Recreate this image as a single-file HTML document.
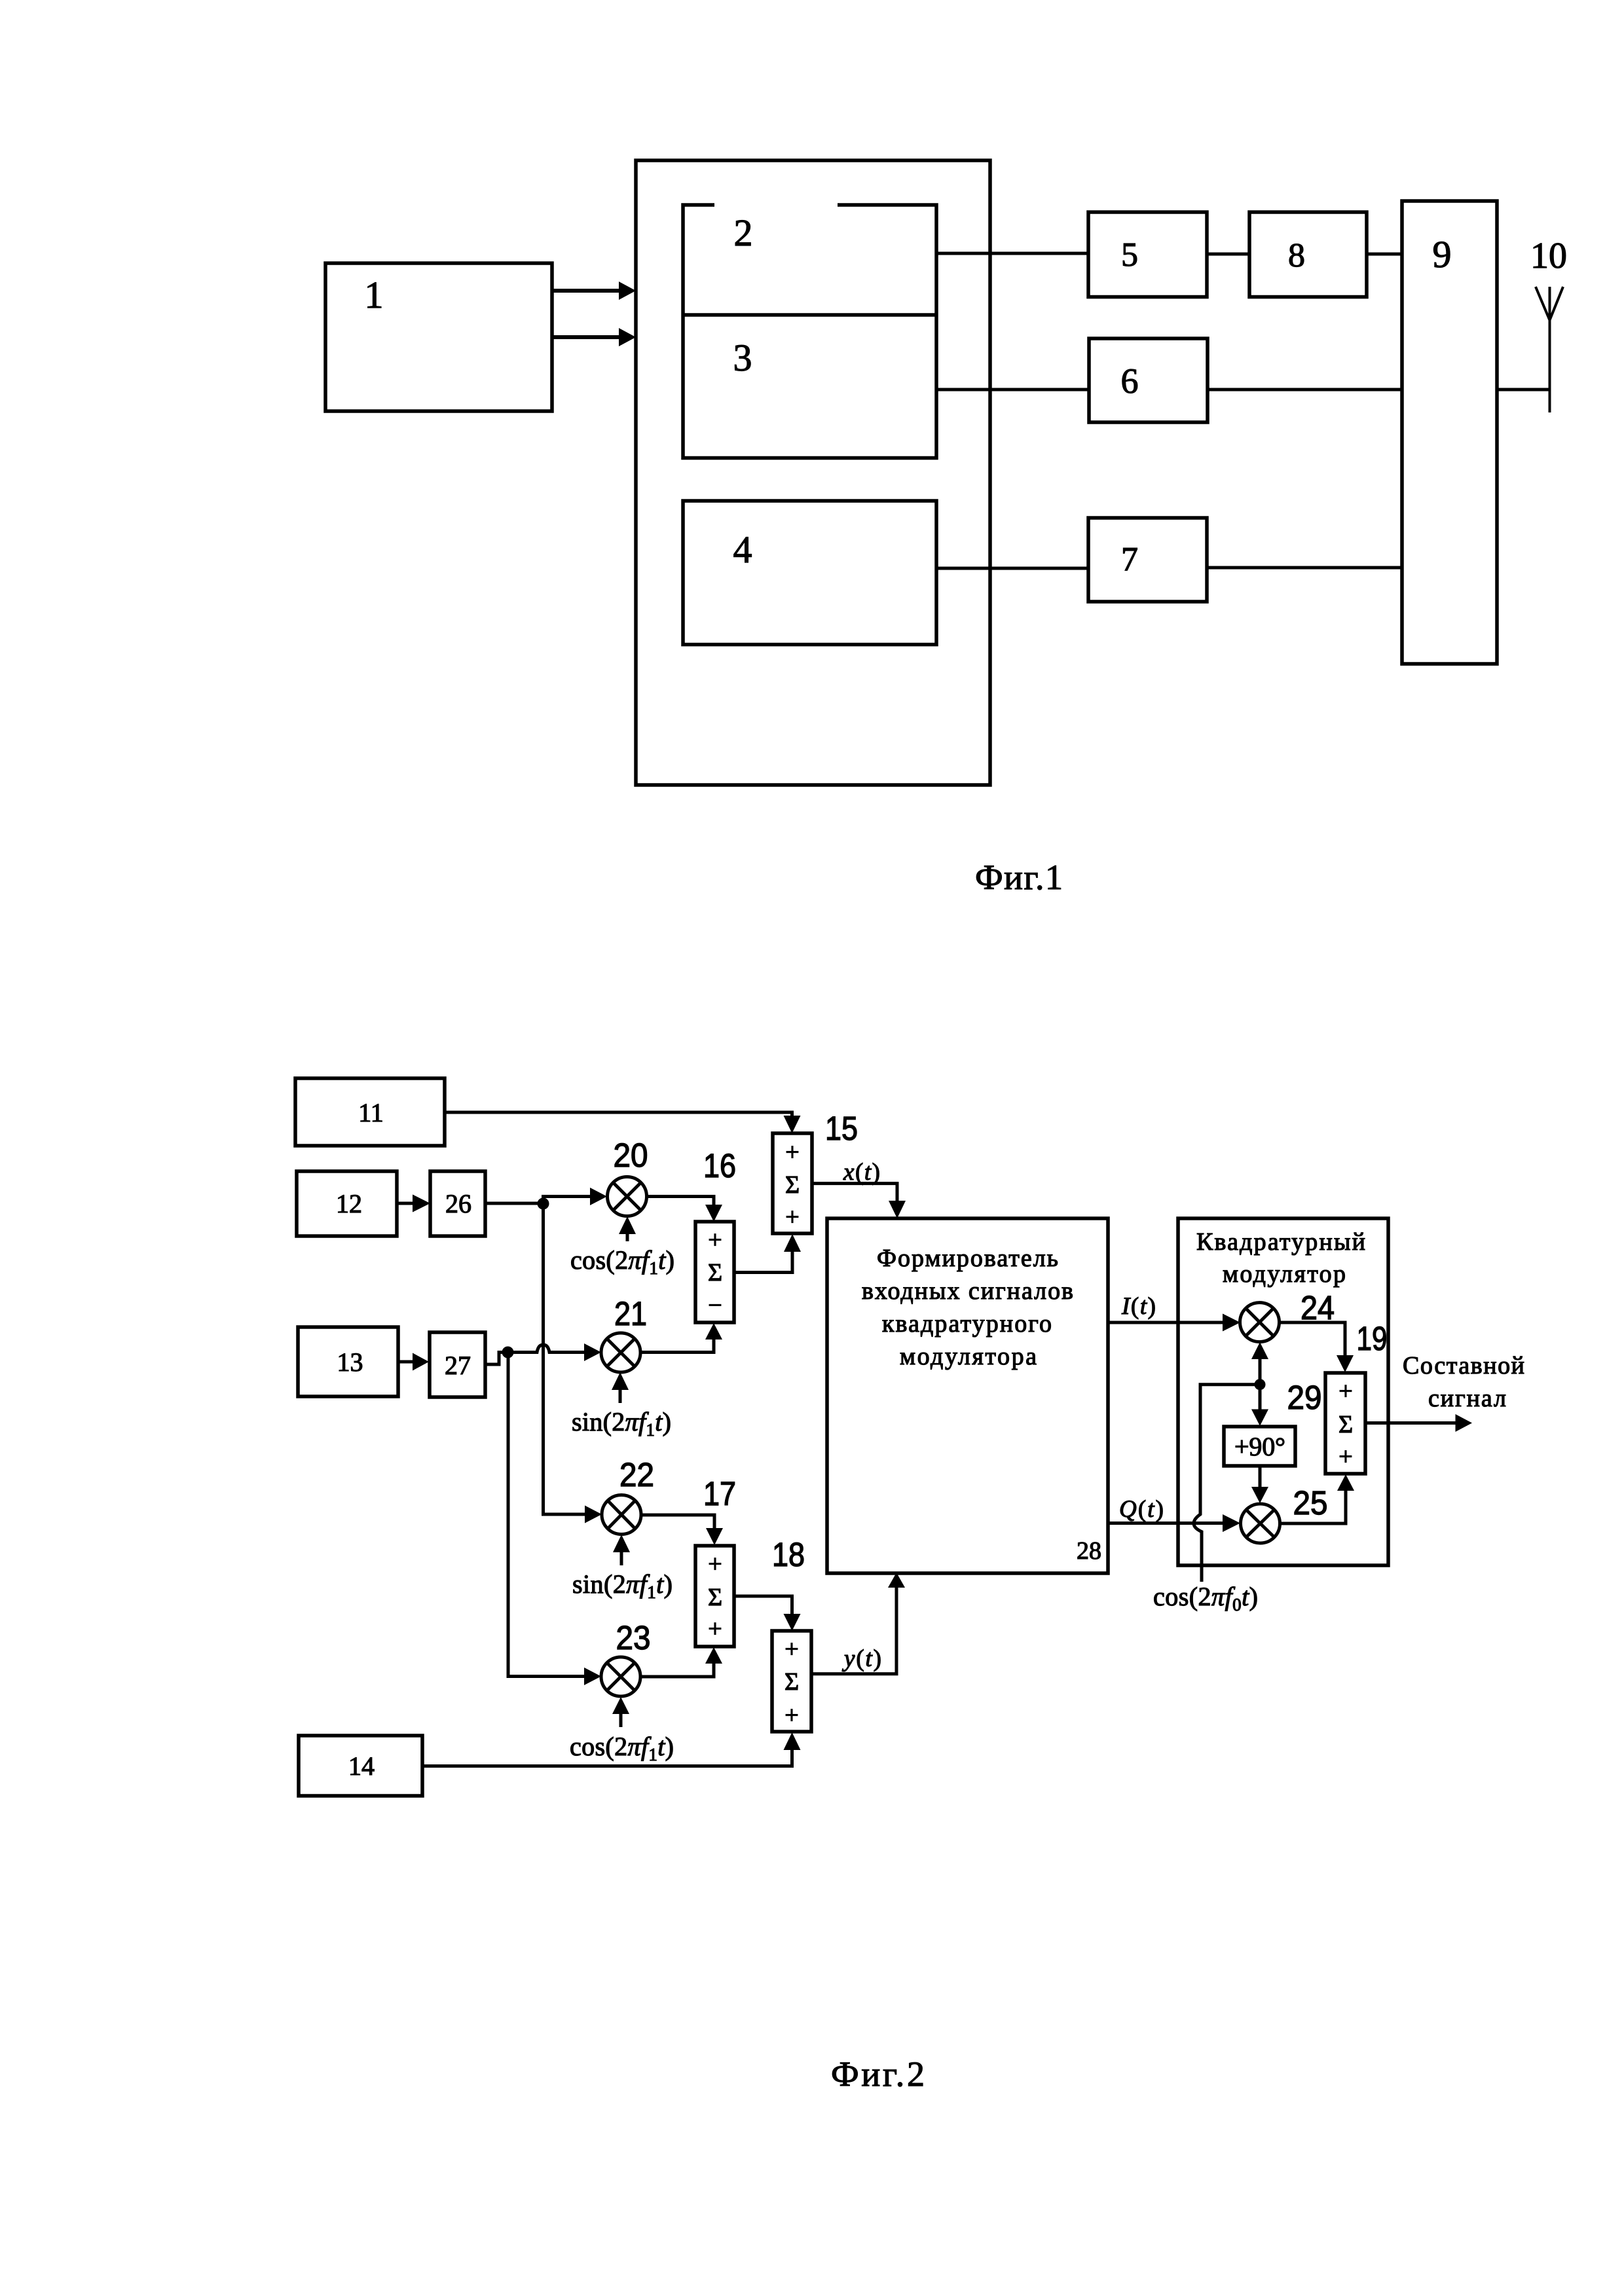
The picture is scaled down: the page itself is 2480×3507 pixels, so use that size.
<!DOCTYPE html>
<html><head><meta charset="utf-8"><style>
html,body{margin:0;padding:0;background:#fff}
svg{display:block}
.b{fill:none;stroke:#000;stroke-width:5.5;stroke-linejoin:miter}
.l{fill:none;stroke:#000;stroke-width:5;stroke-linejoin:miter}
.a{fill:#000;stroke:none}
text{fill:#000;stroke:#000}
.t{font-family:"Liberation Serif",serif;stroke-width:1.2}
.s{font-family:"Liberation Sans",sans-serif;font-size:51px;stroke-width:1.4}
.m{text-anchor:middle}
.i{font-style:italic}
</style></head><body>
<svg width="2480" height="3507" viewBox="0 0 2480 3507" xmlns="http://www.w3.org/2000/svg">
<rect width="2480" height="3507" fill="#fff"/>
<!-- FIG 1 -->
<g class="b">
<rect x="497" y="402" width="346" height="226"/>
<rect x="971" y="245" width="541" height="954"/>
<path d="M1091 313H1043V699.500H1430V313H1279"/>
<path d="M1043 481H1430"/>
<rect x="1043" y="765" width="387" height="219.500"/>
<rect x="1662" y="324" width="181" height="129.500"/>
<rect x="1908" y="324" width="179" height="129.500"/>
<rect x="2141" y="307" width="145" height="707"/>
<rect x="1663" y="517" width="181" height="128"/>
<rect x="1662" y="791" width="181" height="128"/>
</g>
<g class="l">
<path d="M843 444H950M843 515H950" stroke-width="6"/>
<path d="M1430 387H1662M1843 388H1908M2087 388H2141"/>
<path d="M1430 595H1663M1844 595H2141M2286 595H2366"/>
<path d="M1430 868H1662M1843 867H2141"/>
<path d="M2366.500 438V630M2345 438L2366.500 489L2387 438" stroke-width="4"/>
</g>
<polygon class="a" points="945,430 971,444 945,458"/>
<polygon class="a" points="945,501 971,515 945,529"/>
<g class="t m" font-size="58">
<text x="571" y="470">1</text>
<text x="1135" y="375">2</text>
<text x="1134" y="566">3</text>
<text x="1134" y="859">4</text>
<text x="2202" y="408">9</text>
<text x="2365" y="409" font-size="56">10</text>
<text x="1725" y="406" font-size="52">5</text>
<text x="1980" y="407" font-size="52">8</text>
<text x="1725" y="600" font-size="54">6</text>
<text x="1725" y="871" font-size="52">7</text>
</g>
<text class="t" x="1489" y="1358" font-size="54" textLength="134">Фиг.1</text>
<text class="t" x="1269" y="3186" font-size="54" textLength="143">Фиг.2</text>

<!-- FIG 2 -->
<g class="b">
<rect x="451" y="1647" width="228" height="103"/>
<rect x="453" y="1789" width="153" height="99"/>
<rect x="657" y="1789" width="84" height="99"/>
<rect x="455" y="2027" width="153" height="106"/>
<rect x="656" y="2035" width="85" height="99"/>
<rect x="456" y="2651" width="189" height="92"/>
<rect x="1180" y="1731" width="60" height="153"/>
<rect x="1062" y="1866" width="59" height="154"/>
<rect x="1062" y="2361" width="59" height="154"/>
<rect x="1179" y="2491" width="60" height="154"/>
<rect x="1263" y="1861" width="429" height="542"/>
<rect x="1799" y="1861" width="321" height="530"/>
<rect x="2024" y="2097" width="61" height="154"/>
<rect x="1869" y="2179" width="109" height="60"/>
</g>
<g class="l">
<!-- inputs -->
<path d="M679 1699H1209.500V1710"/>
<path d="M606 1838H635M741 1838H829.500"/>
<path d="M829.500 1838V1827.500H905M988 1827.500H1090V1845"/>
<path d="M1121 1943.500H1210V1905"/>
<path d="M958 1896V1880"/>
<path d="M608 2080H635"/>
<path d="M741 2084H762V2065.500H820Q822 2054 829.500 2054Q837 2054 839 2065.500H897"/>
<path d="M978 2065.500H1090V2040"/>
<path d="M947 2143V2118"/>
<path d="M829.500 1838V2313H897"/>
<path d="M776 2065.500V2560.500H897"/>
<path d="M979 2314H1091V2340"/>
<path d="M949 2391V2366"/>
<path d="M1121 2438H1209.500V2470"/>
<path d="M978 2561H1090V2536"/>
<path d="M948 2638V2613"/>
<path d="M645 2697.500H1209.500V2666"/>
<path d="M1240 1807.600H1370V1838"/>
<path d="M1239.400 2556.700H1369V2420"/>
<path d="M1692 2020H1870"/>
<path d="M1692 2326.500H1870"/>
<path d="M1954 2020H2054V2075"/>
<path d="M1955 2327H2055V2272"/>
<path d="M1924 2070V2158"/>
<path d="M1924 2114.700H1833V2313Q1823 2320 1823 2327Q1823 2334 1835 2339.600V2416"/>
<path d="M1924 2239V2276"/>
<path d="M2085 2173.500H2228"/>
</g>
<!-- multipliers -->
<g class="l">
<circle cx="957.500" cy="1827.500" r="30"/><path d="M936 1806L979 1849M979 1806L936 1849"/>
<circle cx="948" cy="2066" r="30"/><path d="M927 2045L969 2087M969 2045L927 2087"/>
<circle cx="949" cy="2313.500" r="30"/><path d="M928 2292L970 2335M970 2292L928 2335"/>
<circle cx="948" cy="2561" r="30"/><path d="M927 2540L969 2582M969 2540L927 2582"/>
<circle cx="1923.500" cy="2019.600" r="30"/><path d="M1902 1998L1945 2041M1945 1998L1902 2041"/>
<circle cx="1924.500" cy="2327" r="30"/><path d="M1903 2306L1946 2348M1946 2306L1903 2348"/>
</g>
<!-- junction dots -->
<circle class="a" cx="829.500" cy="1838.500" r="9"/>
<circle class="a" cx="775.500" cy="2065.500" r="9"/>
<circle class="a" cx="1924" cy="2114.700" r="8.500"/>
<!-- arrowheads -->
<g class="a">
<polygon points="1196.500,1704 1222.500,1704 1209.500,1731"/>
<polygon points="630,1824.500 657,1838 630,1851.500"/>
<polygon points="901,1814 927,1827.500 901,1841"/>
<polygon points="1077,1840 1103,1840 1090,1866"/>
<polygon points="1197,1912 1223,1912 1210,1885"/>
<polygon points="945,1885 971,1885 958,1858"/>
<polygon points="630,2066.500 655,2080 630,2093.500"/>
<polygon points="892,2052 918,2065.500 892,2079"/>
<polygon points="1077,2046 1103,2046 1090,2021"/>
<polygon points="934,2123 960,2123 947,2096"/>
<polygon points="893,2299.500 919,2313 893,2326.500"/>
<polygon points="892,2547 918,2560.500 892,2574"/>
<polygon points="1078,2334 1104,2334 1091,2360"/>
<polygon points="936,2371 962,2371 949,2344"/>
<polygon points="1196.500,2465 1222.500,2465 1209.500,2491"/>
<polygon points="1077,2541 1103,2541 1090,2516"/>
<polygon points="935,2618 961,2618 948,2592"/>
<polygon points="1196.500,2673 1222.500,2673 1209.500,2646"/>
<polygon points="1357,1834 1383,1834 1370,1861"/>
<polygon points="1356,2425 1382,2425 1369,2402"/>
<polygon points="1867,2006.500 1894,2020 1867,2033.500"/>
<polygon points="1867,2313 1894,2326.500 1867,2340"/>
<polygon points="2041,2070 2067,2070 2054,2096"/>
<polygon points="2042,2277 2068,2277 2055,2252"/>
<polygon points="1911,2076 1937,2076 1924,2050"/>
<polygon points="1911,2152.500 1937,2152.500 1924,2178"/>
<polygon points="1911,2271 1937,2271 1924,2296"/>
<polygon points="2222.500,2160 2248,2173.500 2222.500,2187"/>
</g>
<!-- block numbers -->
<g class="t m" font-size="40">
<text x="566.500" y="1713">11</text>
<text x="533" y="1852">12</text>
<text x="700" y="1852">26</text>
<text x="534.500" y="2094">13</text>
<text x="699" y="2099">27</text>
<text x="552" y="2711">14</text>
<text x="1663" y="2381" font-size="38">28</text>
</g>
<!-- Arial numbers -->
<g class="s m">
<text x="1285" y="1741" textLength="50" lengthAdjust="spacingAndGlyphs">15</text>
<text x="963" y="1782" textLength="53" lengthAdjust="spacingAndGlyphs">20</text>
<text x="1099" y="1798" textLength="50" lengthAdjust="spacingAndGlyphs">16</text>
<text x="963" y="2024" textLength="50" lengthAdjust="spacingAndGlyphs">21</text>
<text x="972.500" y="2270" textLength="53" lengthAdjust="spacingAndGlyphs">22</text>
<text x="1099" y="2299" textLength="50" lengthAdjust="spacingAndGlyphs">17</text>
<text x="1204" y="2392" textLength="50" lengthAdjust="spacingAndGlyphs">18</text>
<text x="967" y="2519" textLength="53" lengthAdjust="spacingAndGlyphs">23</text>
<text x="2012" y="2015" textLength="52" lengthAdjust="spacingAndGlyphs">24</text>
<text x="2001" y="2313" textLength="53" lengthAdjust="spacingAndGlyphs">25</text>
<text x="2095" y="2062" textLength="47" lengthAdjust="spacingAndGlyphs">19</text>
<text x="1992" y="2152" textLength="53" lengthAdjust="spacingAndGlyphs">29</text>
</g>
<!-- sum signs -->
<g class="t m" font-size="38">
<text x="1210" y="1772">+</text><text x="1210" y="1822">Σ</text><text x="1210" y="1871">+</text>
<text x="1092" y="1906">+</text><text x="1092" y="1956">Σ</text><text x="1092" y="2006">−</text>
<text x="1092" y="2401">+</text><text x="1092" y="2452">Σ</text><text x="1092" y="2500">+</text>
<text x="1209" y="2531">+</text><text x="1209" y="2581">Σ</text><text x="1209" y="2632">+</text>
<text x="2055" y="2137">+</text><text x="2055" y="2188">Σ</text><text x="2055" y="2237">+</text>
</g>
<!-- formula labels -->
<g class="t" font-size="40">
<text x="871" y="1938" textLength="159">cos(2<tspan class="i">πf</tspan><tspan font-size="27" dy="8">1</tspan><tspan class="i" dy="-8">t</tspan>)</text>
<text x="873" y="2185" textLength="152">sin(2<tspan class="i">πf</tspan><tspan font-size="27" dy="8">1</tspan><tspan class="i" dy="-8">t</tspan>)</text>
<text x="874" y="2433" textLength="153">sin(2<tspan class="i">πf</tspan><tspan font-size="27" dy="8">1</tspan><tspan class="i" dy="-8">t</tspan>)</text>
<text x="870" y="2681" textLength="159">cos(2<tspan class="i">πf</tspan><tspan font-size="27" dy="8">1</tspan><tspan class="i" dy="-8">t</tspan>)</text>
<text x="1761" y="2452" textLength="160">cos(2<tspan class="i">πf</tspan><tspan font-size="27" dy="8">0</tspan><tspan class="i" dy="-8">t</tspan>)</text>
<text x="1288" y="1802" font-size="37" textLength="56"><tspan class="i">x</tspan>(<tspan class="i">t</tspan>)</text>
<text x="1289" y="2545" font-size="37" textLength="57"><tspan class="i">y</tspan>(<tspan class="i">t</tspan>)</text>
<text x="1713" y="2007" font-size="37" textLength="52"><tspan class="i">I</tspan>(<tspan class="i">t</tspan>)</text>
<text x="1709" y="2317" font-size="37" textLength="68"><tspan class="i">Q</tspan>(<tspan class="i">t</tspan>)</text>
<text x="1924" y="2223" class="m" textLength="78">+90°</text>
</g>
<!-- Cyrillic captions -->
<g class="t" font-size="38">
<text x="1339" y="1934" textLength="277">Формирователь</text>
<text x="1316" y="1984" textLength="323">входных сигналов</text>
<text x="1347" y="2034" textLength="259">квадратурного</text>
<text x="1374" y="2084" textLength="209">модулятора</text>
<text x="1827" y="1909" textLength="258">Квадратурный</text>
<text x="1867" y="1958" textLength="188">модулятор</text>
<text x="2142" y="2098" textLength="186">Составной</text>
<text x="2181" y="2148" textLength="119">сигнал</text>
</g>
</svg>
</body></html>
